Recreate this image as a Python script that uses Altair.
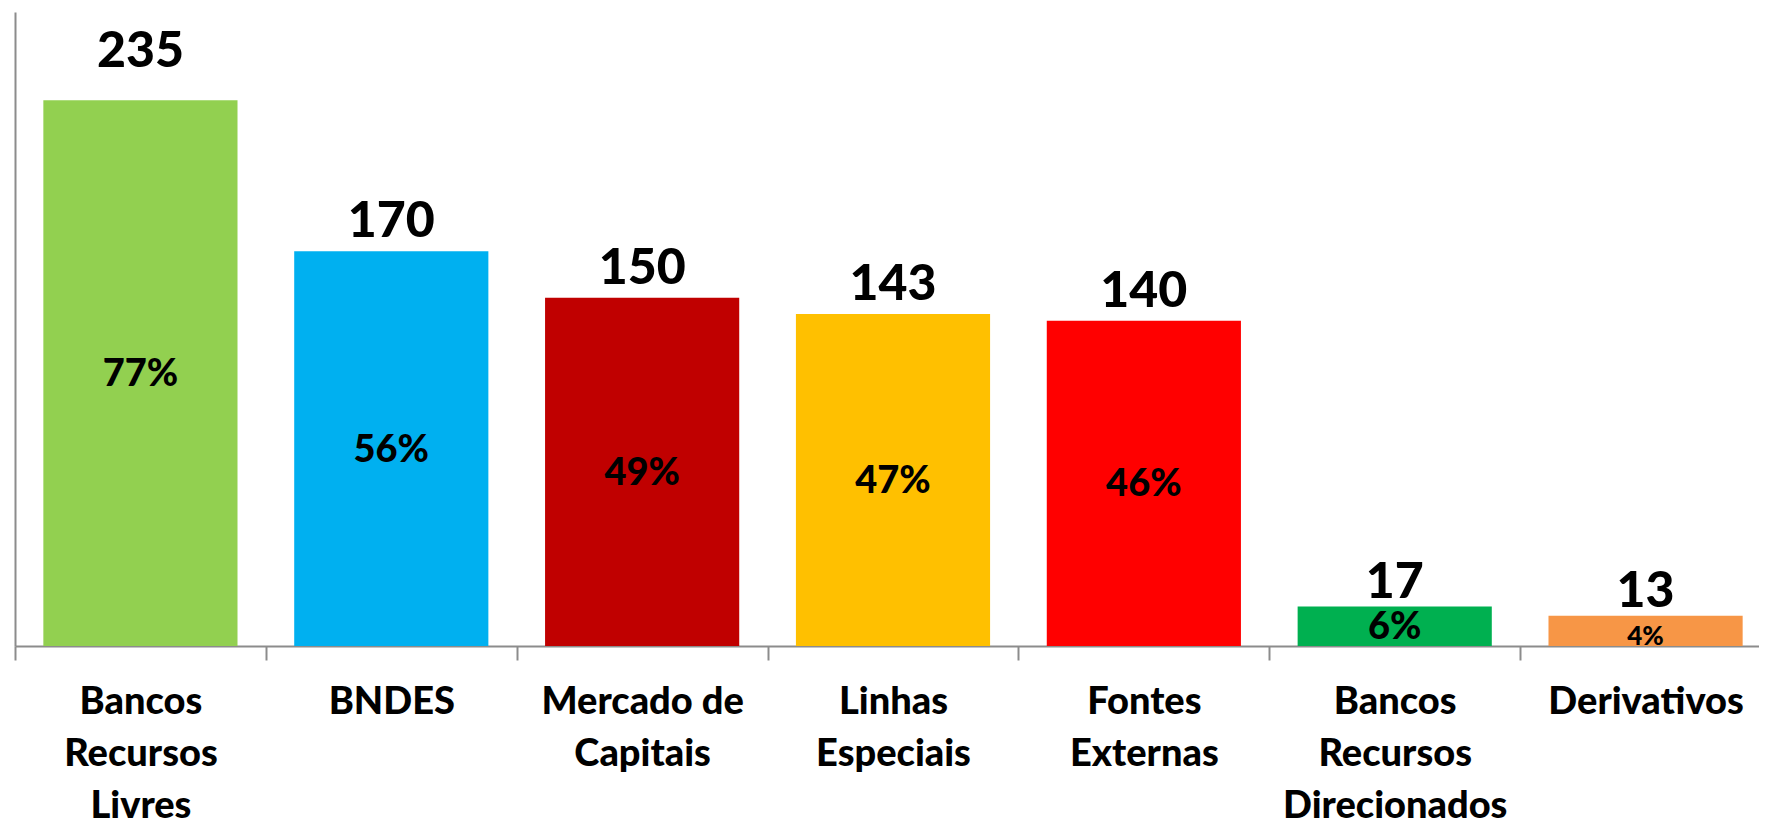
import altair as alt
import pandas as pd

categories = [
    "Bancos\nRecursos\nLivres",
    "BNDES",
    "Mercado de\nCapitais",
    "Linhas\nEspeciais",
    "Fontes\nExternas",
    "Bancos\nRecursos\nDirecionados",
    "Derivativos",
]
values = [235, 170, 150, 143, 140, 17, 13]
percents = [77, 56, 49, 47, 46, 6, 4]
colors = ["#92D050", "#00B0F0", "#C00000", "#FFC000", "#FF0000", "#00B050", "#F79646"]

df = pd.DataFrame({"cat": categories, "value": values, "pct": percents, "idx": list(range(len(categories)))})

FONT = "Lato"
WEIGHT = 900
GRAY = "#8C8C8C"

x_enc = alt.X(
    "cat:N",
    sort=None,
    scale=alt.Scale(paddingInner=0, paddingOuter=0, range=[0, 1756]),
    axis=alt.Axis(
        title=None,
        labelAngle=0,
        labelExpr="split(datum.label, '\\n')",
        labelFont=FONT,
        labelFontSize=38,
        labelFontWeight=WEIGHT,
        labelColor="black",
        labelLineHeight=52,
        labelPadding=23,
        labelLimit=500,
        labelOverlap=False,
        tickBand="extent",
        tickSize=14,
        tickWidth=2,
        tickColor=GRAY,
        domainColor=GRAY,
        domainWidth=2,
    ),
)
y_scale = alt.Scale(domain=[0, 273], nice=False)
y_axis = alt.Axis(
    title=None, labels=False, ticks=False, grid=False,
    domain=True, domainColor=GRAY, domainWidth=2,
)

base = alt.Chart(df)

bars = base.mark_bar(width=alt.RelativeBandSize(0.774)).encode(
    x=x_enc,
    y=alt.Y("value:Q", scale=y_scale, axis=y_axis),
    color=alt.Color("cat:N", sort=None, scale=alt.Scale(domain=categories, range=colors), legend=None),
)

val_first = base.transform_filter(alt.datum.idx == 0).mark_text(
    font=FONT, fontSize=50, fontWeight=WEIGHT, color="black", baseline="alphabetic", dy=-33
).encode(x=alt.X("cat:N", sort=None), y=alt.Y("value:Q"), text=alt.Text("value:Q"))

val_mid = base.transform_filter((alt.datum.idx > 0) & (alt.datum.idx < 5)).mark_text(
    font=FONT, fontSize=50, fontWeight=WEIGHT, color="black", baseline="alphabetic", dy=-14
).encode(x=alt.X("cat:N", sort=None), y=alt.Y("value:Q"), text=alt.Text("value:Q"))

val_small = base.transform_filter(alt.datum.idx >= 5).mark_text(
    font=FONT, fontSize=50, fontWeight=WEIGHT, color="black", baseline="alphabetic", dy=-9
).encode(x=alt.X("cat:N", sort=None), y=alt.Y("value:Q"), text=alt.Text("value:Q"))

pct_main = base.transform_filter(alt.datum.idx < 6).transform_calculate(
    half="datum.value / 2", lab="datum.pct + '%'"
).mark_text(
    font=FONT, fontSize=38, fontWeight=WEIGHT, color="black", baseline="middle", dy=2
).encode(x=alt.X("cat:N", sort=None), y=alt.Y("half:Q"), text="lab:N")

pct_small = base.transform_filter(alt.datum.idx == 6).transform_calculate(
    zero="0", lab="datum.pct + '%'"
).mark_text(
    font=FONT, fontSize=26, fontWeight=WEIGHT, color="black", baseline="alphabetic", dy=-1
).encode(x=alt.X("cat:N", sort=None), y=alt.Y("zero:Q"), text="lab:N")

chart = alt.layer(bars, val_first, val_mid, val_small, pct_main, pct_small).properties(
    width=1744,
    height=634,
    padding={"left": 7, "top": 4, "right": 0, "bottom": 190},
    autosize=alt.AutoSizeParams(type="none"),
    background="white",
).configure_view(stroke=None)

chart.save("out.html", embed_options={"renderer": "svg", "actions": False})
